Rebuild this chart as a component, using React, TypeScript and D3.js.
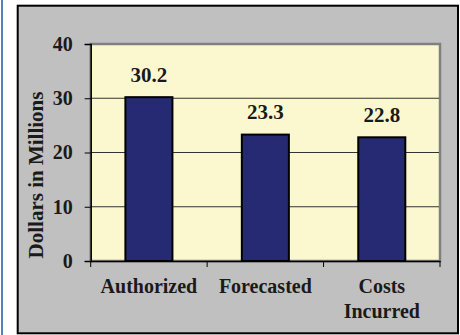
import React, { useEffect, useRef } from "react";
import * as d3 from "d3";

const categories = ["Authorized", "Forecasted", "Costs Incurred"];
const values = [30.2, 23.3, 22.8];
const yTicks = [0, 10, 20, 30, 40];

function App() {
  const ref = useRef<SVGSVGElement | null>(null);

  useEffect(() => {
    drawChart();
  }, []);

  const drawChart = () => {
    const svg = d3.select(ref.current);
    svg.selectAll("*").remove();

    const font = "'Liberation Serif', 'Times New Roman', serif";
    const plot = { left: 90.7, right: 440, top: 44, bottom: 261 };

    // blue rule on the far left
    svg
      .append("rect")
      .attr("x", 1)
      .attr("y", 0)
      .attr("width", 2)
      .attr("height", 335)
      .attr("fill", "#4F81BD");

    // outer frame
    svg
      .append("rect")
      .attr("x", 17.7)
      .attr("y", 5.7)
      .attr("width", 440.3)
      .attr("height", 327.6)
      .attr("fill", "#C0C0C0")
      .attr("stroke", "#000")
      .attr("stroke-width", 2);

    const x = d3
      .scaleBand()
      .domain(categories)
      .range([plot.left, plot.right])
      .paddingInner(0)
      .paddingOuter(0);

    const y = d3.scaleLinear().domain([0, 40]).range([plot.bottom, plot.top]);

    // plot area with grey edge top/right
    svg
      .append("rect")
      .attr("x", plot.left)
      .attr("y", plot.top)
      .attr("width", plot.right - plot.left)
      .attr("height", plot.bottom - plot.top)
      .attr("fill", "#FBF8D0")
      .attr("stroke", "#808080")
      .attr("stroke-width", 2.5);

    // gridlines
    svg
      .append("g")
      .selectAll("line")
      .data(yTicks.filter((d) => d > 0 && d < 40))
      .enter()
      .append("line")
      .attr("x1", plot.left)
      .attr("x2", plot.right - 1)
      .attr("y1", (d) => y(d))
      .attr("y2", (d) => y(d))
      .attr("stroke", "#333")
      .attr("stroke-width", 1);

    // bars
    const bw = x.bandwidth() * 0.404;
    svg
      .append("g")
      .selectAll("rect")
      .data(values)
      .enter()
      .append("rect")
      .attr("x", (d, i) => x(categories[i])! + x.bandwidth() / 2 - bw / 2)
      .attr("y", (d) => y(d))
      .attr("width", bw)
      .attr("height", (d) => y(0) - y(d))
      .attr("fill", "#262A72")
      .attr("stroke", "#000")
      .attr("stroke-width", 2);

    // value labels
    svg
      .append("g")
      .selectAll("text")
      .data(values)
      .enter()
      .append("text")
      .attr("x", (d, i) => x(categories[i])! + x.bandwidth() / 2)
      .attr("y", (d) => y(d) - 15.5)
      .attr("text-anchor", "middle")
      .attr("font-family", font)
      .attr("font-weight", "bold")
      .attr("font-size", 21)
      .attr("fill", "#1a1a1a")
      .text((d) => d.toFixed(1));

    // y axis
    const yAxis = svg
      .append("g")
      .attr("transform", `translate(${plot.left},0)`)
      .call(d3.axisLeft(y).tickValues(yTicks).tickSize(6).tickPadding(12));
    yAxis.select(".domain").attr("stroke", "#000").attr("stroke-width", 1.5);
    yAxis.selectAll(".tick line").attr("stroke", "#000");
    yAxis
      .selectAll(".tick text")
      .attr("font-family", font)
      .attr("font-weight", "bold")
      .attr("font-size", 20)
      .attr("fill", "#1a1a1a");

    // x axis
    const xAxis = svg
      .append("g")
      .attr("transform", `translate(0,${plot.bottom})`)
      .call(d3.axisBottom(x).tickSize(0).tickFormat(() => ""));
    xAxis.select(".domain").attr("stroke", "#000").attr("stroke-width", 1.5);

    // category separators
    const seps = [...categories.map((c) => x(c)!), plot.right];
    svg
      .append("g")
      .selectAll("line")
      .data(seps)
      .enter()
      .append("line")
      .attr("x1", (d) => d)
      .attr("x2", (d) => d)
      .attr("y1", plot.bottom)
      .attr("y2", plot.bottom + 6)
      .attr("stroke", "#000");

    // category labels
    const labels = svg
      .append("g")
      .selectAll("text")
      .data(categories)
      .enter()
      .append("text")
      .attr("text-anchor", "middle")
      .attr("font-family", font)
      .attr("font-weight", "bold")
      .attr("font-size", 20)
      .attr("fill", "#1a1a1a");
    labels.each(function (c) {
      const words = c === "Costs Incurred" ? ["Costs", "Incurred"] : [c];
      const cx = x(c)! + x.bandwidth() / 2;
      words.forEach((w, i) => {
        d3.select(this)
          .append("tspan")
          .attr("x", cx)
          .attr("y", 293.3 + i * 24.4)
          .text(w);
      });
    });

    // y title
    svg
      .append("text")
      .attr("transform", `translate(42.5,175) rotate(-90)`)
      .attr("text-anchor", "middle")
      .attr("font-family", font)
      .attr("font-weight", "bold")
      .attr("font-size", 21)
      .attr("fill", "#1a1a1a")
      .text("Dollars in Millions");
  };

  return (
    <svg
      ref={ref}
      width={460}
      height={335}
      style={{ position: "absolute", left: 0, top: 0, background: "#fff" }}
    />
  );
}

export default App;
